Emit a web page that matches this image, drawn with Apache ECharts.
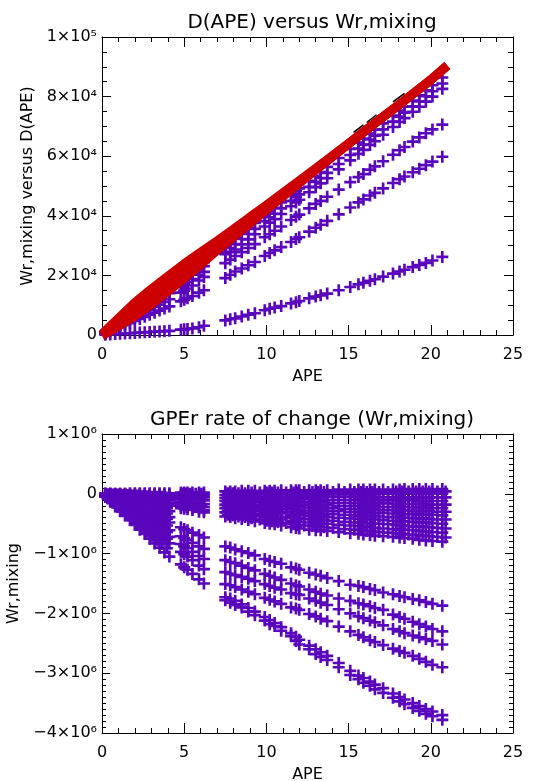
<!DOCTYPE html>
<html>
<head>
<meta charset="utf-8">
<script src="https://cdn.jsdelivr.net/npm/echarts@6/dist/echarts.min.js"></script>
<style>html,body{margin:0;padding:0;background:#fff}#c{width:538px;height:781px}</style>
</head>
<body>
<div id="c"></div>
<script>
// ---------- shared APE sample positions ----------
const apeEarly = [0.2,0.5,0.8,1.1,1.4,1.7,2.0,2.3,2.6,2.9,3.2,3.5,3.8,4.1,4.8,5.0,5.2,5.5,5.9,6.2];
const apeLate = [7.5,7.8,8.1,8.5,8.9,9.3,9.9,10.2,10.5,10.9,11.5,11.8,12.0,12.6,13.0,13.3,13.7,14.4,15.1,15.6,15.9,16.3,16.6,17.1,17.7,18.1,18.4,18.9,19.3,19.7,20.1,20.7];
const apeLateAlt = [7.65,7.95,8.3,8.7,9.1,9.6,10.05,10.35,10.7,11.2,11.65,11.9,12.3,12.8,13.15,13.5,14.05,14.75,15.35,15.75,16.1,16.45,16.85,17.4,17.9,18.25,18.65,19.1,19.5,19.9,20.4,20.9];
const apeEarlyAltLeft = [0.35,0.65,0.95,1.25,1.55,1.85,2.15,2.45,2.75,3.05,3.35,3.65,3.95];
const apeEarlyAltRight = [4.9,5.1,5.35,5.7,6.05];

// ---------- top panel: Wr,mixing versus D(APE), values in units of 1e3 ----------
const TOP_UNIT = 1e3;
const topA1Early = [0.8,2.0,3.1,4.3,5.5,6.7,7.9,9.1,10.2,11.4,12.6,13.8,15.0,16.1,18.9,19.7,20.5,21.7,23.2,24.4];
const topA1Late = [29.9,31.2,32.5,34.2,35.9,37.6,40.2,41.5,42.7,44.5,47.0,48.3,49.2,51.7,53.4,54.7,56.4,59.4,62.4,64.6,65.9,67.6,68.9,71.0,73.6,75.3,76.6,78.7,80.4,82.1,83.8,86.4];
const topA2Early = [0.7,1.9,3.0,4.1,5.2,6.3,7.4,8.6,9.7,10.8,11.9,13.0,14.1,15.3,17.9,18.6,19.4,20.5,22.0,23.1];
const topA2Late = [27.9,29.2,30.5,32.2,33.9,35.6,38.2,39.5,40.7,42.5,45.0,46.3,47.2,49.7,51.4,52.7,54.4,57.4,60.4,62.6,63.9,65.6,66.9,69.0,71.6,73.3,74.6,76.7,78.4,80.1,81.8,84.4];
const topA3Early = [0.7,1.7,2.7,3.8,4.8,5.8,6.8,7.9,8.9,9.9,11.0,12.0,13.0,14.0,16.4,17.1,17.8,18.8,20.2,21.2];
const topA3Late = [27.1,27.8,28.7,30.4,32.1,33.8,36.4,37.7,38.9,40.6,43.2,44.5,45.4,47.9,49.6,50.9,52.6,55.6,58.6,60.8,62.1,63.8,65.0,67.2,69.8,71.5,72.8,74.9,76.6,78.3,80.0,82.6];
const topBEarly = [0.6,1.5,2.4,3.3,4.2,5.0,5.9,6.8,7.6,8.5,9.4,10.2,11.1,12.0,14.2,14.9,15.6,16.6,18.3,19.5];
const topBLate = [24.1,25.3,26.5,27.8,29.2,30.5,32.8,33.8,35.0,36.4,38.6,39.7,40.4,42.5,44.0,45.0,46.4,48.8,51.3,53.0,54.0,55.5,56.6,58.3,60.5,62.0,63.1,64.9,66.3,67.7,69.0,70.6];
const topCEarly = [0.5,1.2,1.9,2.6,3.3,4.0,4.7,5.4,6.1,6.8,7.5,8.2,8.9,9.6,11.3,11.8,12.3,13.1,14.2,15.0];
const topCLate = [19.1,20.2,21.3,22.3,23.4,24.5,26.5,27.5,28.4,29.5,31.2,32.2,32.8,34.7,36.0,37.0,38.3,40.5,42.8,44.5,45.5,46.8,47.7,49.2,51.0,52.3,53.2,54.6,55.8,57.0,58.2,59.8];
const topDEarly = [0.1,0.2,0.3,0.4,0.5,0.6,0.7,0.8,0.9,1.0,1.1,1.2,1.3,1.4,1.8,1.9,2.0,2.2,2.6,3.1];
const topDLate = [4.9,5.3,5.6,6.2,6.8,7.3,8.3,8.8,9.2,9.7,10.6,11.0,11.4,12.3,12.9,13.3,13.9,15.0,16.1,17.0,17.5,18.2,18.7,19.6,20.6,21.3,21.9,22.8,23.5,24.2,25.0,26.2];

// red D(APE) band (three strokes across its width)
const redApe = [0,1,2,3,4,5,6,7,8,9,10,11,12,13,14,15,16,17,18,19,20,21];
const redTop = [0.3,5.6,10.9,15.4,19.7,23.9,27.8,31.6,35.5,39.6,43.6,47.7,51.8,55.9,60.1,64.3,68.6,72.9,77.1,81.4,85.7,90.5];
const redMid = [0,4.3,8.6,12.9,17.2,21.5,25.7,30.0,34.2,38.6,42.8,47.1,51.4,55.7,59.9,64.2,68.5,72.8,77.0,81.3,85.6,90.4];
const redBottom = [-0.3,3.0,6.3,10.3,14.6,19.0,23.6,28.4,32.9,37.5,42.0,46.5,50.9,55.4,59.7,64.1,68.4,72.7,76.9,81.2,85.5,90.3];

// black dashes peeking above the red band
const blackApe = [15.3,15.9,null,16.1,16.7,null,17.7,18.4];
const blackVal = [68.0,70.5,null,71.3,73.9,null,78.2,81.1];

// ---------- bottom panel: GPEr rate of change, values in units of 1e6 ----------
const BOT_UNIT = 1e6;
const botL1Early = [-0.02,-0.06,-0.09,-0.13,-0.16,-0.2,-0.24,-0.27,-0.31,-0.34,-0.38,-0.41,-0.45,-0.48,-0.56,-0.59,-0.61,-0.65,-0.69,-0.73];
const botL1Late = [-0.88,-0.9,-0.93,-0.96,-0.99,-1.03,-1.09,-1.12,-1.14,-1.17,-1.23,-1.25,-1.27,-1.32,-1.35,-1.37,-1.41,-1.46,-1.52,-1.54,-1.56,-1.59,-1.61,-1.65,-1.68,-1.71,-1.73,-1.76,-1.78,-1.81,-1.84,-1.87];
const botL2Early = [-0.03,-0.07,-0.12,-0.16,-0.21,-0.25,-0.3,-0.34,-0.39,-0.43,-0.48,-0.52,-0.56,-0.61,-0.71,-0.74,-0.77,-0.82,-0.88,-0.92];
const botL2Late = [-1.11,-1.14,-1.16,-1.2,-1.24,-1.28,-1.34,-1.37,-1.4,-1.44,-1.5,-1.53,-1.55,-1.6,-1.64,-1.67,-1.7,-1.75,-1.79,-1.83,-1.85,-1.88,-1.91,-1.94,-2.02,-2.06,-2.09,-2.14,-2.18,-2.22,-2.26,-2.3];
const botL3Early = [-0.04,-0.09,-0.14,-0.19,-0.25,-0.3,-0.35,-0.4,-0.46,-0.51,-0.56,-0.61,-0.67,-0.72,-0.84,-0.88,-0.91,-0.97,-1.04,-1.09];
const botL3Late = [-1.31,-1.34,-1.36,-1.39,-1.42,-1.46,-1.51,-1.54,-1.57,-1.6,-1.66,-1.68,-1.69,-1.75,-1.79,-1.82,-1.86,-1.93,-2.0,-2.05,-2.08,-2.12,-2.15,-2.2,-2.26,-2.3,-2.33,-2.37,-2.4,-2.43,-2.46,-2.52];
const botL4Early = [-0.04,-0.1,-0.16,-0.22,-0.28,-0.34,-0.41,-0.47,-0.53,-0.59,-0.65,-0.71,-0.77,-0.83,-0.97,-1.01,-1.05,-1.11,-1.2,-1.26];
const botL4Late = [-1.51,-1.53,-1.56,-1.6,-1.64,-1.68,-1.74,-1.77,-1.8,-1.84,-1.9,-1.92,-1.94,-2.01,-2.05,-2.09,-2.13,-2.22,-2.3,-2.36,-2.4,-2.45,-2.48,-2.53,-2.59,-2.63,-2.66,-2.71,-2.76,-2.81,-2.86,-2.9];
const botL5Early = [-0.05,-0.13,-0.21,-0.29,-0.36,-0.44,-0.52,-0.6,-0.67,-0.75,-0.83,-0.9,-0.98,-1.05,-1.18,-1.23,-1.27,-1.34,-1.43,-1.5];
const botL5Late = [-1.73,-1.75,-1.79,-1.85,-1.91,-1.97,-2.06,-2.11,-2.16,-2.23,-2.33,-2.39,-2.44,-2.54,-2.6,-2.65,-2.71,-2.83,-2.96,-3.04,-3.08,-3.14,-3.19,-3.25,-3.34,-3.4,-3.44,-3.5,-3.55,-3.6,-3.64,-3.7];
const botL5bLate = [-1.78,-1.82,-1.86,-1.9,-1.97,-2.03,-2.12,-2.18,-2.21,-2.29,-2.38,-2.46,-2.52,-2.6,-2.68,-2.73,-2.78,-2.9,-3.03,-3.1,-3.16,-3.21,-3.27,-3.33,-3.41,-3.47,-3.52,-3.58,-3.63,-3.68,-3.72,-3.78];

const botT1Early = [0,0,0,0,0,0.01,0.01,0.01,0.01,0.01,0.01,0.01,0.01,0.01,0.02,0.02,0.02,0.02,0.02,0.02];
const botT1Late = [0.04,0.04,0.04,0.05,0.05,0.05,0.05,0.05,0.05,0.06,0.06,0.06,0.06,0.06,0.06,0.06,0.06,0.07,0.07,0.07,0.07,0.07,0.07,0.07,0.07,0.07,0.08,0.08,0.08,0.08,0.08,0.08];
const botT2Early = [0,0,0,0,0,-0.01,-0.01,-0.01,-0.01,-0.01,-0.01,-0.01,-0.01,-0.01,-0.02,-0.02,-0.02,-0.02,-0.02,-0.02];
const botT2Late = [-0.02,-0.02,-0.02,-0.02,-0.02,-0.02,-0.01,-0.01,-0.01,-0.01,-0.01,-0.01,-0.01,-0.01,-0.01,-0.01,-0.01,-0.01,-0.01,-0.01,-0.01,-0.01,-0.01,0,0,0,0,0,0,0,0,0];
const botT3Early = [0,0,-0.01,-0.01,-0.01,-0.02,-0.02,-0.02,-0.03,-0.03,-0.03,-0.03,-0.04,-0.04,-0.05,-0.05,-0.05,-0.05,-0.06,-0.06];
const botT3Late = [-0.07,-0.07,-0.07,-0.07,-0.08,-0.08,-0.08,-0.08,-0.08,-0.09,-0.09,-0.09,-0.09,-0.09,-0.09,-0.1,-0.1,-0.1,-0.1,-0.1,-0.1,-0.11,-0.11,-0.11,-0.11,-0.11,-0.11,-0.11,-0.12,-0.12,-0.12,-0.12];
const botT4Early = [0,-0.01,-0.01,-0.02,-0.02,-0.03,-0.04,-0.04,-0.05,-0.05,-0.06,-0.06,-0.07,-0.07,-0.09,-0.09,-0.09,-0.1,-0.1,-0.11];
const botT4Late = [-0.12,-0.12,-0.13,-0.13,-0.14,-0.14,-0.15,-0.16,-0.16,-0.17,-0.17,-0.18,-0.18,-0.18,-0.19,-0.19,-0.19,-0.2,-0.2,-0.2,-0.21,-0.21,-0.21,-0.22,-0.22,-0.22,-0.22,-0.23,-0.23,-0.23,-0.24,-0.24];
const botT5Early = [-0.01,-0.01,-0.02,-0.03,-0.04,-0.05,-0.05,-0.06,-0.07,-0.08,-0.09,-0.1,-0.1,-0.11,-0.13,-0.14,-0.14,-0.15,-0.16,-0.17];
const botT5Late = [-0.18,-0.19,-0.19,-0.2,-0.21,-0.22,-0.23,-0.23,-0.24,-0.25,-0.26,-0.27,-0.27,-0.28,-0.28,-0.28,-0.29,-0.29,-0.3,-0.31,-0.31,-0.31,-0.32,-0.32,-0.33,-0.33,-0.34,-0.34,-0.35,-0.35,-0.35,-0.36];
const botT6Early = [-0.01,-0.02,-0.03,-0.04,-0.05,-0.06,-0.07,-0.08,-0.09,-0.1,-0.11,-0.12,-0.13,-0.15,-0.17,-0.18,-0.18,-0.2,-0.21,-0.22];
const botT6Late = [-0.24,-0.25,-0.26,-0.27,-0.28,-0.29,-0.3,-0.31,-0.32,-0.33,-0.35,-0.35,-0.36,-0.37,-0.38,-0.38,-0.39,-0.4,-0.41,-0.42,-0.42,-0.43,-0.43,-0.44,-0.45,-0.46,-0.46,-0.47,-0.48,-0.48,-0.49,-0.5];
const botT7Early = [-0.01,-0.02,-0.03,-0.05,-0.06,-0.07,-0.09,-0.1,-0.11,-0.13,-0.14,-0.15,-0.17,-0.18,-0.21,-0.22,-0.23,-0.24,-0.26,-0.27];
const botT7Late = [-0.31,-0.32,-0.33,-0.35,-0.36,-0.37,-0.39,-0.41,-0.42,-0.43,-0.45,-0.46,-0.47,-0.48,-0.49,-0.5,-0.5,-0.52,-0.53,-0.54,-0.55,-0.56,-0.57,-0.58,-0.59,-0.6,-0.6,-0.61,-0.62,-0.63,-0.64,-0.65];
const botT8Early = [-0.01,-0.03,-0.04,-0.05,-0.07,-0.08,-0.1,-0.12,-0.13,-0.15,-0.16,-0.18,-0.19,-0.2,-0.24,-0.25,-0.26,-0.27,-0.3,-0.31];
const botT8Late = [-0.38,-0.39,-0.41,-0.42,-0.44,-0.46,-0.49,-0.5,-0.51,-0.53,-0.56,-0.57,-0.58,-0.6,-0.61,-0.61,-0.62,-0.64,-0.66,-0.67,-0.68,-0.69,-0.7,-0.71,-0.72,-0.73,-0.74,-0.75,-0.77,-0.78,-0.79,-0.8];
// in-between members of the upper cluster, sampled at the alternate APE columns
const botTm1Alt = [0.01,0.01,0.01,0.01,0.02,0.02,0.02,0.02,0.02,0.02,0.02,0.02,0.03,0.03,0.03,0.03,0.03,0.03,0.03,0.03,0.03,0.03,0.03,0.03,0.04,0.04,0.04,0.04,0.04,0.04,0.04,0.04];
const botTm2Alt = [-0.04,-0.04,-0.04,-0.05,-0.05,-0.05,-0.05,-0.05,-0.05,-0.05,-0.05,-0.05,-0.05,-0.05,-0.05,-0.05,-0.05,-0.05,-0.05,-0.06,-0.06,-0.06,-0.06,-0.06,-0.06,-0.06,-0.06,-0.06,-0.06,-0.06,-0.06,-0.06];
const botTm3Alt = [-0.1,-0.1,-0.1,-0.11,-0.11,-0.11,-0.12,-0.12,-0.12,-0.13,-0.13,-0.13,-0.14,-0.14,-0.14,-0.14,-0.15,-0.15,-0.15,-0.15,-0.16,-0.16,-0.16,-0.16,-0.17,-0.17,-0.17,-0.17,-0.17,-0.18,-0.18,-0.18];
const botTm4Alt = [-0.15,-0.16,-0.16,-0.17,-0.18,-0.19,-0.19,-0.2,-0.2,-0.21,-0.22,-0.22,-0.23,-0.23,-0.24,-0.24,-0.24,-0.25,-0.25,-0.26,-0.26,-0.26,-0.27,-0.27,-0.28,-0.28,-0.28,-0.29,-0.29,-0.29,-0.3,-0.3];
const botTm5Alt = [-0.21,-0.22,-0.23,-0.24,-0.25,-0.26,-0.27,-0.28,-0.29,-0.3,-0.31,-0.31,-0.32,-0.33,-0.33,-0.34,-0.34,-0.35,-0.36,-0.37,-0.37,-0.37,-0.38,-0.39,-0.39,-0.4,-0.4,-0.41,-0.41,-0.42,-0.43,-0.43];
const botTm6Alt = [-0.28,-0.29,-0.3,-0.31,-0.33,-0.34,-0.35,-0.36,-0.38,-0.39,-0.4,-0.41,-0.42,-0.43,-0.44,-0.44,-0.45,-0.47,-0.48,-0.48,-0.49,-0.5,-0.5,-0.51,-0.52,-0.53,-0.54,-0.55,-0.55,-0.56,-0.57,-0.58];
const botTm7Alt = [-0.35,-0.36,-0.38,-0.39,-0.41,-0.43,-0.45,-0.46,-0.47,-0.49,-0.51,-0.52,-0.53,-0.54,-0.55,-0.56,-0.57,-0.59,-0.6,-0.61,-0.62,-0.63,-0.64,-0.65,-0.66,-0.67,-0.68,-0.69,-0.7,-0.71,-0.72,-0.73];
// extra early fan members (APE < 4.2 only)
const botE1Early = [-0.01,-0.04,-0.06,-0.08,-0.1,-0.12,-0.14,-0.16,-0.18,-0.2,-0.22,-0.25,-0.27,-0.29];
const botE2Early = [-0.02,-0.05,-0.08,-0.1,-0.13,-0.16,-0.19,-0.22,-0.25,-0.28,-0.3,-0.33,-0.36,-0.39];
// early fan members sampled at the alternate columns (left group)
const botFa1 = [-0.01,-0.01,-0.01,-0.02,-0.02,-0.03,-0.03,-0.04,-0.04,-0.05,-0.05,-0.05,-0.06];
const botFa2 = [-0.01,-0.03,-0.04,-0.05,-0.06,-0.07,-0.09,-0.1,-0.11,-0.12,-0.13,-0.15,-0.16];
const botFa3 = [-0.02,-0.04,-0.06,-0.08,-0.09,-0.11,-0.13,-0.15,-0.17,-0.18,-0.2,-0.22,-0.24];
const botFa4 = [-0.03,-0.05,-0.08,-0.1,-0.13,-0.15,-0.18,-0.2,-0.23,-0.25,-0.28,-0.3,-0.33];
const botFa5 = [-0.04,-0.07,-0.1,-0.13,-0.16,-0.2,-0.23,-0.26,-0.29,-0.32,-0.36,-0.39,-0.42];
const botFa6 = [-0.05,-0.09,-0.13,-0.17,-0.21,-0.25,-0.29,-0.33,-0.37,-0.41,-0.45,-0.49,-0.53];
const botFa7 = [-0.06,-0.11,-0.15,-0.2,-0.25,-0.3,-0.35,-0.4,-0.45,-0.49,-0.54,-0.59,-0.64];
const botFa8 = [-0.07,-0.12,-0.18,-0.24,-0.29,-0.35,-0.41,-0.47,-0.52,-0.58,-0.64,-0.69,-0.75];
const botFa9 = [-0.08,-0.15,-0.22,-0.29,-0.36,-0.43,-0.49,-0.56,-0.63,-0.7,-0.77,-0.84,-0.91];
// upper group sampled at the alternate columns (right early group)
const botRa1 = [0.0,0.0,0.0,0.0,0.0];
const botRa2 = [-0.08,-0.08,-0.09,-0.09,-0.1];
const botRa3 = [-0.16,-0.17,-0.17,-0.18,-0.19];

// ---------- helpers ----------
const PURPLE = '#5a06bc';
const RED = '#cc0000';
const FONT = 'DejaVu Sans';
const PLUS = 'path://M3.9,0H6.1V3.9H10V6.1H6.1V10H3.9V6.1H0V3.9H3.9Z';
const SUP = {'0':'⁰','1':'¹','2':'²','3':'³','4':'⁴','5':'⁵','6':'⁶','7':'⁷','8':'⁸','9':'⁹'};

function pairs(xs, ys, unit) {
  return ys.map((y, i) => (y === null ? '-' : [xs[i], y * unit]));
}
function sciLabel(v) {
  if (v === 0) return '0';
  const a = Math.abs(v);
  const e = Math.floor(Math.log10(a) + 1e-9);
  const m = Math.round(a / Math.pow(10, e));
  return (v < 0 ? '−' : '') + m + '×10' + String(e).split('').map(c => SUP[c]).join('');
}
function scatter(data, g) {
  return {
    type: 'scatter', xAxisIndex: g * 2, yAxisIndex: g * 2, data: data,
    symbol: PLUS, symbolSize: 12, itemStyle: { color: PURPLE, opacity: 1 },
    silent: true, animation: false
  };
}
function redLine(ys) {
  return {
    type: 'line', xAxisIndex: 0, yAxisIndex: 0, data: pairs(redApe, ys, TOP_UNIT),
    showSymbol: false, symbol: 'none', lineStyle: { color: RED, width: 9, cap: 'butt' },
    silent: true, animation: false, clip: true
  };
}

const series = [];
[[topA1Early, topA1Late],[topA2Early, topA2Late],[topA3Early, topA3Late],
 [topBEarly, topBLate],[topCEarly, topCLate],[topDEarly, topDLate]].forEach(p => {
  series.push(scatter(pairs(apeEarly, p[0], TOP_UNIT).concat(pairs(apeLate, p[1], TOP_UNIT)), 0));
});
series.push({
  type: 'line', xAxisIndex: 0, yAxisIndex: 0,
  data: blackApe.map((x, i) => (x === null ? '-' : [x, blackVal[i] * TOP_UNIT])),
  showSymbol: false, symbol: 'none', connectNulls: false,
  lineStyle: { color: '#000', width: 1.5 }, silent: true, animation: false
});
[redTop, redMid, redBottom].forEach(r => series.push(redLine(r)));

[[botT1Early, botT1Late],[botT2Early, botT2Late],[botT3Early, botT3Late],[botT4Early, botT4Late],
 [botT5Early, botT5Late],[botT6Early, botT6Late],[botT7Early, botT7Late],[botT8Early, botT8Late],
 [botL1Early, botL1Late],[botL2Early, botL2Late],[botL3Early, botL3Late],[botL4Early, botL4Late],
 [botL5Early, botL5Late]].forEach(p => {
  series.push(scatter(pairs(apeEarly, p[0], BOT_UNIT).concat(pairs(apeLate, p[1], BOT_UNIT)), 1));
});
series.push(scatter(pairs(apeLate, botL5bLate, BOT_UNIT), 1));
[botTm1Alt, botTm2Alt, botTm3Alt, botTm4Alt, botTm5Alt, botTm6Alt, botTm7Alt].forEach(a => {
  series.push(scatter(pairs(apeLateAlt, a, BOT_UNIT), 1));
});
series.push(scatter(pairs(apeEarly, botE1Early, BOT_UNIT), 1));
series.push(scatter(pairs(apeEarly, botE2Early, BOT_UNIT), 1));
[botFa1, botFa2, botFa3, botFa4, botFa5, botFa6, botFa7, botFa8, botFa9].forEach(a => {
  series.push(scatter(pairs(apeEarlyAltLeft, a, BOT_UNIT), 1));
});
[botRa1, botRa2, botRa3].forEach(a => {
  series.push(scatter(pairs(apeEarlyAltRight, a, BOT_UNIT), 1));
});

const lineStyle = { color: '#000', width: 1 };
function xAxes(g) {
  const base = {
    type: 'value', gridIndex: g, min: 0, max: 25, interval: 5,
    axisLine: { show: true, onZero: false, lineStyle: lineStyle },
    axisTick: { show: true, inside: true, length: 10, lineStyle: lineStyle },
    minorTick: { show: true, splitNumber: 5, length: 5, lineStyle: lineStyle },
    splitLine: { show: false }, minorSplitLine: { show: false }
  };
  return [
    Object.assign({}, base, {
      position: 'bottom',
      axisLabel: { show: true, color: '#000', fontFamily: FONT, fontSize: 16, margin: 12 },
      name: 'APE', nameLocation: 'middle', nameGap: 34,
      nameTextStyle: { color: '#000', fontFamily: FONT, fontSize: 16 }
    }),
    Object.assign({}, base, { position: 'top', axisLabel: { show: false } })
  ];
}
function yAxes(g, min, max, interval, minorSplit, name, nameGap, majorLen, minorLen) {
  const base = {
    type: 'value', gridIndex: g, min: min, max: max, interval: interval,
    axisLine: { show: true, onZero: false, lineStyle: lineStyle },
    axisTick: { show: true, inside: true, length: majorLen, lineStyle: lineStyle },
    minorTick: { show: true, splitNumber: minorSplit, length: minorLen, lineStyle: lineStyle },
    splitLine: { show: false }, minorSplitLine: { show: false }
  };
  return [
    Object.assign({}, base, {
      position: 'left',
      axisLabel: { show: true, color: '#000', fontFamily: FONT, fontSize: 16, margin: 5, formatter: sciLabel },
      name: name, nameLocation: 'middle', nameGap: nameGap,
      nameTextStyle: { color: '#000', fontFamily: FONT, fontSize: 16 }
    }),
    Object.assign({}, base, { position: 'right', axisLabel: { show: false } })
  ];
}

const chart = echarts.init(document.getElementById('c'), null, { renderer: 'canvas' });
chart.setOption({
  backgroundColor: '#fff',
  animation: false,
  title: [
    { text: 'D(APE) versus Wr,mixing', left: 307, top: 8, textAlign: 'center',
      textStyle: { color: '#000', fontFamily: FONT, fontSize: 20, fontWeight: 'normal' } },
    { text: 'GPEr rate of change (Wr,mixing)', left: 307, top: 405, textAlign: 'center',
      textStyle: { color: '#000', fontFamily: FONT, fontSize: 20, fontWeight: 'normal' } }
  ],
  grid: [
    { left: 102, top: 37, width: 411, height: 298, outerBoundsMode: 'none', containLabel: false },
    { left: 102, top: 434, width: 411, height: 299, outerBoundsMode: 'none', containLabel: false }
  ],
  xAxis: xAxes(0).concat(xAxes(1)),
  yAxis: yAxes(0, 0, 100000, 20000, 4, 'Wr,mixing versus D(APE)', 64, 9, 5)
    .concat(yAxes(1, -4000000, 1000000, 1000000, 10, 'Wr,mixing', 77, 8, 4)),
  series: series
});
</script>
</body>
</html>
